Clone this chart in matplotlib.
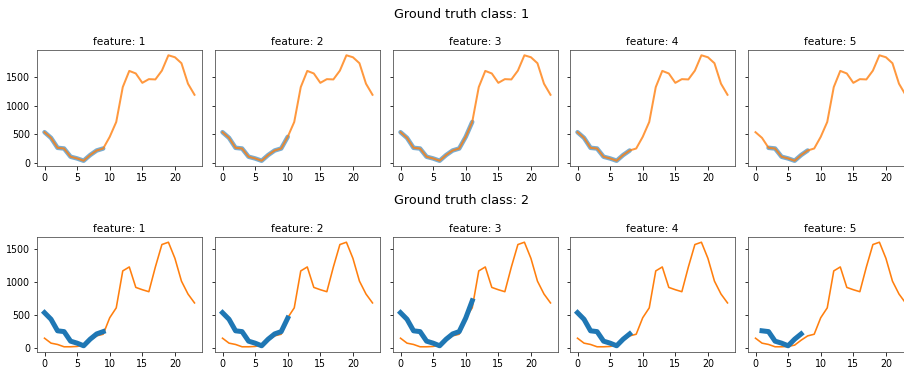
import numpy as np
import matplotlib.pyplot as plt

# daily profile (24 hourly steps) for each ground-truth class
hours = np.arange(24)
class1 = [537, 437, 262, 250, 105, 75, 35, 135, 215, 250, 455, 717,
          1330, 1615, 1570, 1405, 1470, 1465, 1620, 1890, 1855, 1750, 1390, 1195]
class2 = [150, 75, 55, 20, 20, 25, 45, 120, 185, 210, 460, 610,
          1170, 1230, 920, 885, 855, 1230, 1570, 1605, 1360, 1015, 820, 685]

# highlighted window per feature: (start hour, end hour) into the class-1 profile
feat_names = ['1', '2', '3', '4', '5']
win_row1 = [(0, 9), (0, 10), (0, 11), (0, 8), (2, 8)]
win_row2 = [(0, 9), (0, 10), (0, 11), (0, 8), (2, 8)]
shift_row2 = [0, 0, 0, 0, -1]

W, H, dpi = 904, 367, 72
fig = plt.figure(figsize=(W/dpi, H/dpi), dpi=dpi)

def px_axes(x0, top, bottom, w):
    return fig.add_axes([x0/W, 1-bottom/H, w/W, (bottom-top)/H])

lefts = [37, 215, 393, 570, 748]
aw = 165
rows = [(50, 166, class1, win_row1, [0]*5, 'Ground truth class: 1', 14),
        (237, 352, class2, win_row2, shift_row2, 'Ground truth class: 2', 200)]

for r, (top, bot, series, wins, shifts, title, ty) in enumerate(rows):
    fig.text(462/W, 1-ty/H, title, ha='center', va='center', fontsize=12.8)
    first = None
    for i in range(5):
        ax = px_axes(lefts[i], top, bot, aw)
        if first is None:
            first = ax
        else:
            ax.sharey(first)
            plt.setp(ax.get_yticklabels(), visible=False)
        a, b = wins[i]
        xs = hours[a:b+1] + shifts[i]
        ys = class1[a:b+1]
        if r == 0:
            ax.plot(xs, ys, color='#1f77b4', lw=4.5, alpha=0.6, solid_capstyle='round')
            ax.plot(hours, series, color='#ff7f0e', lw=2, alpha=0.8)
        else:
            ax.plot(hours, series, color='#ff7f0e', lw=1.6)
            ax.plot(xs, ys, color='#1f77b4', lw=5)
        ax.set_title('feature: ' + feat_names[i], fontsize=10.6, pad=5)
        ax.set_xticks([0, 5, 10, 15, 20])
        ax.set_yticks([0, 500, 1000, 1500])
        ax.tick_params(labelsize=9.5, length=3.5)
        for s in ax.spines.values():
            s.set_color('0.3')

fig.savefig('out.png', dpi=dpi)
